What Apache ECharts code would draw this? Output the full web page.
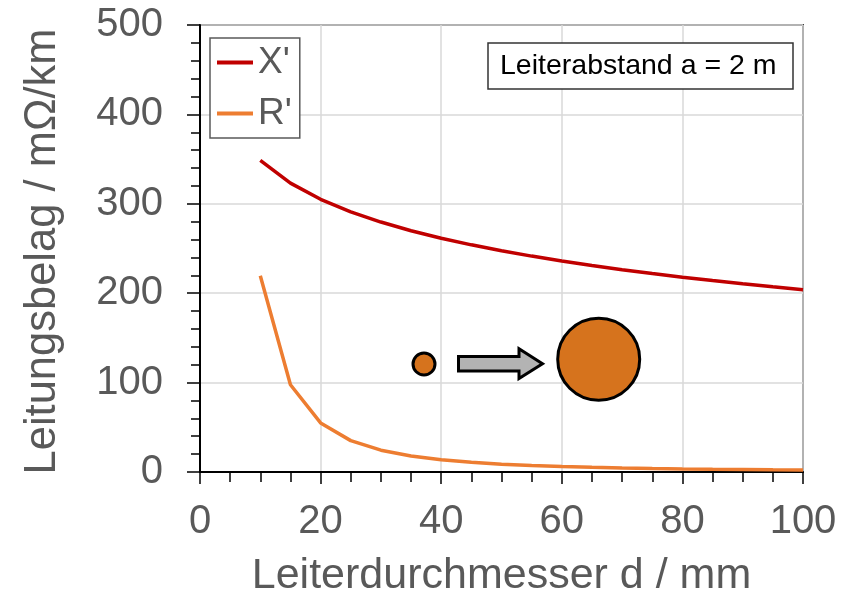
<!DOCTYPE html>
<html>
<head>
<meta charset="utf-8">
<script src="https://cdn.jsdelivr.net/npm/echarts@6/dist/echarts.min.js"></script>
<style>
html,body{margin:0;padding:0;background:#fff;}
#chart{width:853px;height:598px;}
</style>
</head>
<body>
<div id="chart"></div>
<script>
// Data
var diameters = [10,15,20,25,30,35,40,45,50,55,60,65,70,75,80,85,90,95,100];
var xPrime = [348.6,323.1,305.0,291.0,279.6,269.9,261.5,254.1,247.5,241.5,236.0,231.0,226.3,222.0,217.9,214.1,210.6,207.2,203.9];
var rPrime = [219.5,97.6,54.9,35.1,24.4,17.9,13.7,10.8,8.8,7.3,6.1,5.2,4.5,3.9,3.4,3.0,2.7,2.4,2.2];
var seriesNames = ["X'", "R'"];
var xAxisTitle = "Leiterdurchmesser d / mm";
var yAxisTitle = "Leitungsbelag / m\u03A9/km";
var noteText = "Leiterabstand a = 2 m";

function pairs(xs, ys){ return xs.map(function(x,i){ return [x, ys[i]]; }); }

var FONT = "'Liberation Sans', Arial, sans-serif";
var GREY = '#595959';

var chart = echarts.init(document.getElementById('chart'), null, {renderer:'canvas'});
var option = {
  animation: false,
  backgroundColor: '#ffffff',
  textStyle: {fontFamily: FONT},
  grid: {left: 200, right: 50, top: 25, bottom: 126, show: true, borderColor: '#404040', borderWidth: 2,
         backgroundColor: 'transparent', containLabel: false, outerBoundsMode: 'none'},
  legend: {
    data: seriesNames,
    orient: 'vertical',
    left: 210, top: 38,
    icon: 'rect',
    itemWidth: 36, itemHeight: 4,
    itemGap: 14,
    padding: [6, 8, 6, 7],
    borderColor: GREY, borderWidth: 1.5,
    backgroundColor: '#fff',
    textStyle: {fontFamily: FONT, fontSize: 37, color: GREY, lineHeight: 37},
    z: 10
  },
  title: {
    text: noteText,
    left: 488, top: 43,
    padding: [8, 17, 8, 12],
    borderColor: '#333', borderWidth: 1.5,
    backgroundColor: '#fff',
    textStyle: {fontFamily: FONT, fontSize: 28.5, fontWeight: 'normal', color: '#000', lineHeight: 30}
  },
  xAxis: {
    type: 'value', min: 0, max: 100, interval: 20,
    name: xAxisTitle, nameLocation: 'middle', nameGap: 83,
    nameTextStyle: {fontFamily: FONT, fontSize: 43, color: GREY},
    axisLine: {show: true, lineStyle: {color: '#000', width: 2}},
    axisTick: {show: true, length: 12, lineStyle: {color: '#000', width: 1.5}},
    minorTick: {show: true, splitNumber: 4, length: 10, lineStyle: {color: '#000', width: 1.5}},
    axisLabel: {fontFamily: FONT, fontSize: 40, color: GREY, margin: 30},
    splitLine: {show: true, lineStyle: {color: '#d9d9d9', width: 1.5}}
  },
  yAxis: {
    type: 'value', min: 0, max: 500, interval: 100,
    name: yAxisTitle, nameLocation: 'middle', nameGap: 135,
    nameTextStyle: {fontFamily: FONT, fontSize: 43.5, color: GREY, padding: [0, 6, 0, 0]},
    axisLine: {show: true, lineStyle: {color: '#000', width: 2}},
    axisTick: {show: true, length: 13, lineStyle: {color: '#000', width: 1.5}},
    minorTick: {show: true, splitNumber: 5, length: 9, lineStyle: {color: '#000', width: 1.5}},
    axisLabel: {fontFamily: FONT, fontSize: 40, color: GREY, margin: 37},
    splitLine: {show: true, lineStyle: {color: '#d9d9d9', width: 1.5}}
  },
  series: [
    {name: seriesNames[0], type: 'line', data: pairs(diameters, xPrime), showSymbol: false, symbol: 'none',
     lineStyle: {color: '#c00000', width: 3.5}, itemStyle: {color: '#c00000'}, z: 3},
    {name: seriesNames[1], type: 'line', data: pairs(diameters, rPrime), showSymbol: false, symbol: 'none',
     lineStyle: {color: '#ed7d31', width: 3.5}, itemStyle: {color: '#ed7d31'}, z: 3}
  ],
  graphic: [
    {type: 'circle', shape: {cx: 424, cy: 364, r: 11}, style: {fill: '#d6731d', stroke: '#000', lineWidth: 3}, z: 5},
    {type: 'polygon', shape: {points: [[458.5,356.5],[519,356.5],[519,348.8],[542.5,363.7],[519,378.5],[519,371],[458.5,371]]},
     style: {fill: '#b3b3b3', stroke: '#000', lineWidth: 3, lineJoin: 'miter'}, z: 5},
    {type: 'circle', shape: {cx: 598.7, cy: 359.3, r: 41}, style: {fill: '#d6731d', stroke: '#000', lineWidth: 3}, z: 5}
  ]
};
chart.setOption(option);
</script>
</body>
</html>
